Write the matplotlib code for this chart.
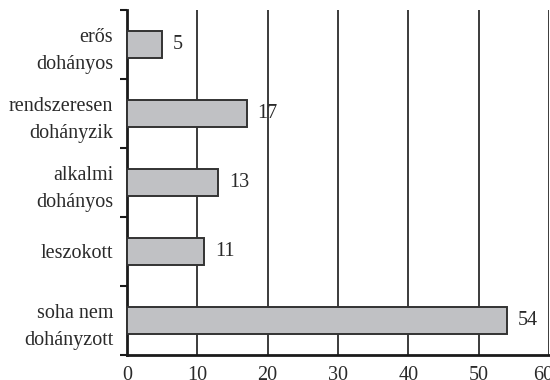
import matplotlib
matplotlib.use("Agg")
import matplotlib.pyplot as plt
from matplotlib.transforms import ScaledTranslation

categories = ["soha nem\ndohányzott", "leszokott", "alkalmi\ndohányos",
              "rendszeresen\ndohányzik", "erős\ndohányos"]
values = [54, 11, 13, 17, 5]
xticks = [0, 10, 20, 30, 40, 50, 60]

plt.rcParams["font.family"] = ["Liberation Serif", "DejaVu Serif"]
txt = "#2a2a2a"
fs = 14.5

fig = plt.figure(figsize=(5.5, 3.8), dpi=100)
ax = fig.add_axes([127 / 550, 25 / 380, 422 / 550, 345 / 380])

pos = list(range(len(categories)))
ax.barh(pos, values, height=0.39, color="#c0c1c4", edgecolor="#333333",
        linewidth=1.4, zorder=3)

for p, v in zip(pos, values):
    ax.text(v + 1.5, p, str(v), va="center", ha="left", fontsize=fs,
            color=txt, zorder=4)

ax.set_xlim(0, 60)
ax.set_ylim(-0.5, len(categories) - 0.5)

# vertical grid lines at every ten
for t in xticks[1:]:
    ax.axvline(t, color="#1a1a1a", linewidth=1.2, zorder=1)

ax.set_xticks(xticks)
ax.set_xticklabels([str(t) for t in xticks], fontsize=fs, color=txt)
ax.tick_params(axis="x", length=0, pad=8)
# pull the last label slightly inward at the right edge
last = ax.get_xticklabels()[-1]
last.set_transform(last.get_transform() + ScaledTranslation(-6 / 100, 0, fig.dpi_scale_trans))

# category labels centred on bars, tick marks on the boundaries
ax.set_yticks(pos)
ax.set_yticklabels(categories, fontsize=fs, color=txt, linespacing=1.55)
ax.tick_params(axis="y", which="major", length=0, pad=10)
ax.set_yticks([p - 0.5 for p in pos] + [len(pos) - 0.5], minor=True)
ax.tick_params(axis="y", which="minor", length=5, width=1.5, direction="out",
               color="#1a1a1a")

for s in ("top", "right"):
    ax.spines[s].set_visible(False)
for s in ("left", "bottom"):
    ax.spines[s].set_linewidth(2)
    ax.spines[s].set_color("#1a1a1a")

fig.savefig("out.png", dpi=100)
